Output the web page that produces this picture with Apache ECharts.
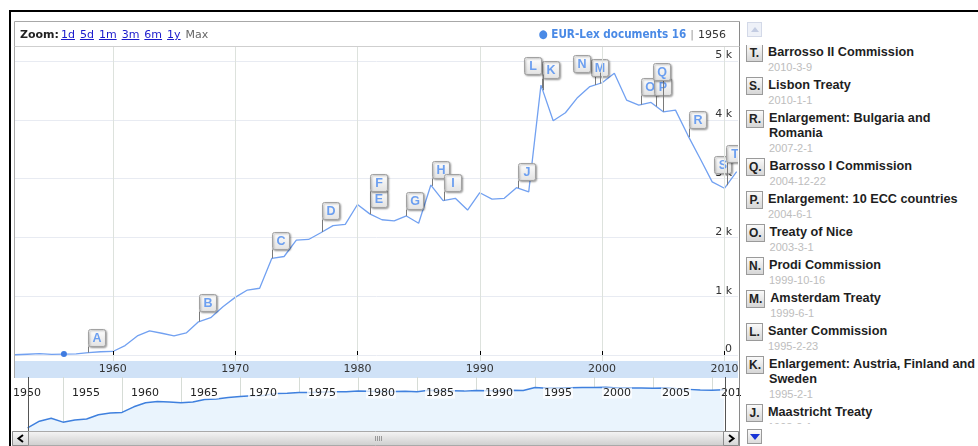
<!DOCTYPE html>
<html>
<head>
<meta charset="utf-8">
<title>EUR-Lex documents</title>
<script src="https://cdn.jsdelivr.net/npm/echarts@6/dist/echarts.min.js"></script>
<style>
  body { margin: 0; background: #fff; }
  #box { position: relative; width: 978px; height: 446px; overflow: hidden; }
  #chart { position: absolute; left: 0; top: 0; width: 978px; height: 446px; }
  #zoom { position: absolute; left: 20px; top: 28px; font: 11px "DejaVu Sans", Verdana, sans-serif; color: #222; white-space: nowrap; }
  #zoom b { margin-right: 2px; }
  #zoom a { color: #1a1acc; margin-right: 5px; text-decoration: underline; }
  #zoom span { color: #666; }
  #readout { position: absolute; right: 252px; top: 27px; font: 11px "DejaVu Sans", Verdana, sans-serif; color: #333; white-space: nowrap; }
  #readout .name { color: #4a8ae6; font-weight: bold; font-size: 11.6px; font-family: "DejaVu Sans Condensed", "DejaVu Sans", sans-serif; }
  #readout .sep { color: #999; margin: 0 4px; }
  #side { position: absolute; left: 741px; top: 13px; width: 237px; height: 433px; background: #fff; }
  #list { position: absolute; left: 5px; top: 32px; width: 232px; height: 379px; overflow: hidden; font-family: "Liberation Sans", Arial, sans-serif; }
  .item { display: flex; align-items: flex-start; padding-bottom: 3px; }
  .tag { height: 16px; line-height: 16px; min-width: 11px; padding: 0 2px; box-sizing: content-box; border: 1px solid #9a9a9a; background: linear-gradient(#fafafa, #d6d6d6); font-weight: bold; font-size: 12px; color: #222; text-align: center; margin-right: 5px; margin-top: -1px; }
  .txt { width: 210px; }
  .title { font-weight: bold; font-size: 12.7px; line-height: 15px; color: #1e1e1e; }
  .date { font-size: 11px; line-height: 15px; color: #bdbdbd; }
  .btn { position: absolute; left: 6px; width: 15px; height: 15px; box-sizing: border-box; }
  #up { top: 9px; background: #eef1f8; border: 1px solid #d3d9e8; }
  #up:after { content: ""; position: absolute; left: 3px; top: 4px; border-left: 4px solid transparent; border-right: 4px solid transparent; border-bottom: 5px solid #c3cce2; }
  #down { top: 416px; background: linear-gradient(#fafafa, #dcdcdc); border: 1px solid #9a9a9a; }
  #down:after { content: ""; position: absolute; left: 2px; top: 4px; border-left: 5px solid transparent; border-right: 5px solid transparent; border-top: 6px solid #1632d6; }
</style>
</head>
<body>
<div id="box">
  <div id="chart"></div>
  <div id="zoom"><b>Zoom:</b><a>1d</a><a>5d</a><a>1m</a><a>3m</a><a>6m</a><a>1y</a><span>Max</span></div>
  <div id="readout"><span class="name">&#9679; EUR-Lex documents 16</span><span class="sep">|</span>1956</div>
  <div id="side">
    <div id="up" class="btn"></div>
    <div id="list"></div>
    <div id="down" class="btn"></div>
  </div>
</div>
<script>
var years = [1952, 1953, 1954, 1955, 1956, 1957, 1958, 1959, 1960, 1961,
    1962, 1963, 1964, 1965, 1966, 1967, 1968, 1969, 1970, 1971,
    1972, 1973, 1974, 1975, 1976, 1977, 1978, 1979, 1980, 1981,
    1982, 1983, 1984, 1985, 1986, 1987, 1988, 1989, 1990, 1991,
    1992, 1993, 1994, 1995, 1996, 1997, 1998, 1999, 2000, 2001,
    2002, 2003, 2004, 2005, 2006, 2007, 2008, 2009, 2010, 2011];
var documents = [4, 13, 22, 11, 16, 19, 40, 55, 60, 160,
    325, 410, 370, 325, 375, 565, 635, 820, 980, 1105,
    1135, 1645, 1675, 1955, 1965, 2080, 2200, 2220, 2560, 2400,
    2300, 2280, 2365, 2240, 2890, 2625, 2665, 2465, 2760, 2650,
    2665, 2845, 2775, 4590, 3985, 4120, 4380, 4565, 4630, 4790,
    4335, 4250, 4295, 4135, 4165, 3740, 3345, 2945, 2835, 3120];

var flagLetters = ['A', 'B', 'C', 'D', 'E', 'F', 'G', 'H', 'I', 'J',
    'K', 'L', 'M', 'N', 'O', 'P', 'Q', 'R', 'S', 'T'];
var flagDates = ['1958-1-1', '1967-1-20', '1973-1-1', '1977-2-6', '1981-1-1', '1981-1-20', '1984-1-1', '1986-1-20', '1987-1-25', '1993-2-1',
    '1995-2-1', '1995-2-23', '1999-6-1', '1999-10-16', '2003-3-1', '2004-6-1', '2004-12-22', '2007-2-1', '2010-1-1', '2010-3-9'];
var flagTitles = ['Treaty of Rome', 'Merger Treaty', 'First enlargement', 'Jenkins Commission', 'Enlargement: Greece', 'Thorn Commission',
    'Delors Commission', 'Enlargement: Spain and Portugal', 'Single European Act', 'Maastricht Treaty',
    'Enlargement: Austria, Finland and Sweden', 'Santer Commission', 'Amsterdam Treaty', 'Prodi Commission', 'Treaty of Nice',
    'Enlargement: 10 ECC countries', 'Barrosso I Commission', 'Enlargement: Bulgaria and Romania', 'Lisbon Treaty', 'Barrosso II Commission'];

var decadeTicks = [1960, 1970, 1980, 1990, 2000, 2010];
var valueTicks = [0, 1000, 2000, 3000, 4000, 5000];
var overviewTicks = [1955, 1960, 1965, 1970, 1975, 1980, 1985, 1990, 1995, 2000, 2005, 2010];
var overviewLabels = [1950, 1955, 1960, 1965, 1970, 1975, 1980, 1985, 1990, 1995, 2000, 2005, 2010];

// where each flag box sits: [shift x, rise above the line], px
var flagLayout = {
    A: [0, 7], B: [0, 11], C: [0, 9], D: [0, 13], E: [0, 7], F: [0, 23], G: [0, 7], H: [0, 8],
    I: [0, 9], J: [0, 8], K: [0, 10], L: [-18.5, 16], M: [-4, 9], N: [-26.5, 11.5], O: [0, 9.5],
    P: [-2.5, 11], Q: [-10, 32], R: [0, 9], S: [-10, 15.5], T: [-1, 23]
};

function toYear(s) {
    var p = s.split('-');
    var y = +p[0];
    var a = Date.UTC(y, 0, 1), b = Date.UTC(y + 1, 0, 1);
    return y + (Date.UTC(y, +p[1] - 1, +p[2]) - a) / (b - a);
}
function valueAt(x) {
    for (var i = 0; i < years.length - 1; i++) {
        if (x <= years[i + 1]) {
            var t = (x - years[i]) / (years[i + 1] - years[i]);
            return documents[i] + t * (documents[i + 1] - documents[i]);
        }
    }
    return documents[documents.length - 1];
}

// legend list, newest first
var list = document.getElementById('list');
for (var i = flagLetters.length - 1; i >= 0; i--) {
    var item = document.createElement('div');
    item.className = 'item';
    item.innerHTML = '<div class="tag">' + flagLetters[i] + '.</div><div class="txt"><div class="title">' +
        flagTitles[i] + '</div><div class="date">' + flagDates[i] + '</div></div>';
    list.appendChild(item);
}

var lineData = years.map(function (y, i) { return [y, documents[i]]; });
var hoverIndex = years.indexOf(1956);
var font = '"DejaVu Sans", Verdana, sans-serif';

var chart = echarts.init(document.getElementById('chart'));
var option = {
    animation: false,
    grid: [
        { left: 15, top: 47, width: 723, height: 314 },
        { left: 4, top: 377, width: 734, height: 54 }
    ],
    xAxis: [
        {
            type: 'value', gridIndex: 0, min: 1952, max: 2011.11, z: 5,
            axisLine: { show: false },
            axisTick: { show: true, inside: true, length: 4, customValues: decadeTicks, lineStyle: { color: '#000' } },
            axisLabel: {
                customValues: decadeTicks, margin: 3, color: '#333', fontSize: 11, fontFamily: font,
                formatter: function (v) { return String(v); }
            },
            splitLine: { show: true, lineStyle: { color: '#dde2dd' } }
        },
        {
            type: 'value', gridIndex: 1, min: 1950, max: 2012.2, position: 'bottom',
            axisLine: { show: false },
            axisTick: { show: true, inside: true, length: 6, customValues: overviewTicks, lineStyle: { color: '#000' } },
            axisLabel: { show: false },
            splitLine: { show: true, lineStyle: { color: '#d6dcd6' } }
        },
        {
            type: 'value', gridIndex: 1, min: 1950, max: 2012.2, position: 'top', z: 5,
            axisLine: { show: false },
            axisTick: { show: false },
            splitLine: { show: false },
            axisLabel: {
                inside: true, margin: 10, customValues: overviewLabels, align: 'left',
                formatter: function (v) { return '{gap|}{t|' + v + '}'; },
                rich: {
                    gap: { width: 8 },
                    t: { color: '#222', fontSize: 11, fontFamily: font, backgroundColor: 'rgba(255,255,255,0.75)', padding: [0, 1] }
                }
            }
        }
    ],
    yAxis: [
        {
            type: 'value', gridIndex: 0, position: 'right', min: -102, max: 5238,
            axisLine: { show: false },
            axisTick: { show: false, customValues: valueTicks },
            axisLabel: {
                inside: true, margin: 6, customValues: valueTicks, verticalAlign: 'bottom',
                color: '#333', fontSize: 11, fontFamily: font,
                formatter: function (v) { return v === 0 ? '0' : (v / 1000) + ' k'; }
            },
            splitLine: { show: true, lineStyle: { color: '#e8ebf2' } }
        },
        {
            type: 'log', gridIndex: 1, min: 2.35, max: 28960, show: false,
            splitLine: { show: false }
        }
    ],
    series: [
        {
            type: 'line', xAxisIndex: 0, yAxisIndex: 0, data: lineData, symbol: 'none',
            lineStyle: { color: '#72a1f1', width: 1.3 },
            markPoint: {
                symbol: 'circle', symbolSize: 6, silent: true,
                itemStyle: { color: '#3f7be0' },
                label: { show: false },
                data: [{ coord: [years[hoverIndex], documents[hoverIndex]] }]
            }
        },
        {
            type: 'custom', xAxisIndex: 0, yAxisIndex: 0, clip: true, z: 4,
            data: flagDates.map(function (d, i) { return [toYear(d), i]; }),
            encode: { x: 0 },
            renderItem: function (params, api) {
                var x = api.value(0);
                var letter = flagLetters[api.value(1)];
                var lay = flagLayout[letter];
                var p = api.coord([x, valueAt(x)]);
                var px = Math.round(p[0]) + 0.5;
                var bx = Math.round(p[0] + lay[0]) + 0.5;
                var by = Math.round(p[1] - lay[1] - 17) + 0.5;
                return {
                    type: 'group',
                    children: [
                        { type: 'line', shape: { x1: px, y1: p[1], x2: px, y2: by + 17 }, style: { stroke: '#7a7a7a', lineWidth: 1 } },
                        {
                            type: 'rect', shape: { x: bx, y: by, width: 17, height: 17, r: 2 },
                            style: {
                                fill: new echarts.graphic.LinearGradient(0, 0, 0, 1, [{ offset: 0, color: '#ffffff' }, { offset: 1, color: '#e2e2e2' }]),
                                stroke: '#a2a2a2', lineWidth: 1,
                                shadowBlur: 2, shadowOffsetX: 1, shadowOffsetY: 1, shadowColor: 'rgba(0,0,0,0.35)'
                            }
                        },
                        {
                            type: 'text',
                            style: { text: letter, x: bx + 8.5, y: by + 9, align: 'center', verticalAlign: 'middle', fill: '#6c9ff0', font: 'bold 12.5px "Liberation Sans", Arial, sans-serif' }
                        }
                    ]
                };
            }
        },
        {
            type: 'line', xAxisIndex: 1, yAxisIndex: 1, data: lineData, symbol: 'none',
            lineStyle: { color: '#3f80de', width: 1.5 },
            areaStyle: { color: '#eaf4fd', origin: 'start', opacity: 1 }
        }
    ],
    graphic: [
        // axis band under the main chart
        { type: 'rect', z: -10, shape: { x: 15, y: 361, width: 723, height: 17 }, style: { fill: '#d0e2f7' } },
        // black outer border
        { type: 'rect', z: 50, shape: { x: 9, y: 10, width: 969, height: 2 }, style: { fill: '#000' } },
        { type: 'rect', z: 50, shape: { x: 9, y: 10, width: 2, height: 436 }, style: { fill: '#000' } },
        // grey frame
        { type: 'line', z: 50, shape: { x1: 14.5, y1: 21.5, x2: 739.5, y2: 21.5 }, style: { stroke: '#a8a8a8' } },
        { type: 'line', z: 50, shape: { x1: 14.5, y1: 21.5, x2: 14.5, y2: 378 }, style: { stroke: '#a8a8a8' } },
        { type: 'line', z: 50, shape: { x1: 739.5, y1: 21.5, x2: 739.5, y2: 446 }, style: { stroke: '#8a8a8a' } },
        { type: 'line', z: 50, shape: { x1: 14.5, y1: 46.5, x2: 739.5, y2: 46.5 }, style: { stroke: '#cfcfcf' } },
        // range handles
        { type: 'line', z: 50, shape: { x1: 28.5, y1: 377, x2: 28.5, y2: 431 }, style: { stroke: '#555' } },
        { type: 'line', z: 50, shape: { x1: 725.5, y1: 377, x2: 725.5, y2: 431 }, style: { stroke: '#555' } },
        // scrollbar
        {
            type: 'rect', z: 50, shape: { x: 12.5, y: 431.5, width: 726, height: 14 },
            style: { fill: new echarts.graphic.LinearGradient(0, 0, 0, 1, [{ offset: 0, color: '#f6f6f6' }, { offset: 1, color: '#cdcdcd' }]), stroke: '#a9a9a9' }
        },
        {
            type: 'rect', z: 51, shape: { x: 12.5, y: 431.5, width: 16, height: 14 },
            style: { fill: new echarts.graphic.LinearGradient(0, 0, 0, 1, [{ offset: 0, color: '#fbfbfb' }, { offset: 1, color: '#d4d4d4' }]), stroke: '#8c8c8c' }
        },
        {
            type: 'rect', z: 51, shape: { x: 723.5, y: 431.5, width: 15, height: 14 },
            style: { fill: new echarts.graphic.LinearGradient(0, 0, 0, 1, [{ offset: 0, color: '#fbfbfb' }, { offset: 1, color: '#d4d4d4' }]), stroke: '#8c8c8c' }
        },
        { type: 'polyline', z: 52, shape: { points: [[23, 435], [18.5, 438.5], [23, 442]] }, style: { stroke: '#000', lineWidth: 2, fill: null } },
        { type: 'polyline', z: 52, shape: { points: [[729, 435], [733.5, 438.5], [729, 442]] }, style: { stroke: '#000', lineWidth: 2, fill: null } },
        { type: 'line', z: 52, shape: { x1: 375.5, y1: 436, x2: 375.5, y2: 441 }, style: { stroke: '#999' } },
        { type: 'line', z: 52, shape: { x1: 377.5, y1: 436, x2: 377.5, y2: 441 }, style: { stroke: '#999' } },
        { type: 'line', z: 52, shape: { x1: 379.5, y1: 436, x2: 379.5, y2: 441 }, style: { stroke: '#999' } },
        { type: 'line', z: 52, shape: { x1: 381.5, y1: 436, x2: 381.5, y2: 441 }, style: { stroke: '#999' } }
    ]
};
chart.setOption(option);
</script>
</body>
</html>
